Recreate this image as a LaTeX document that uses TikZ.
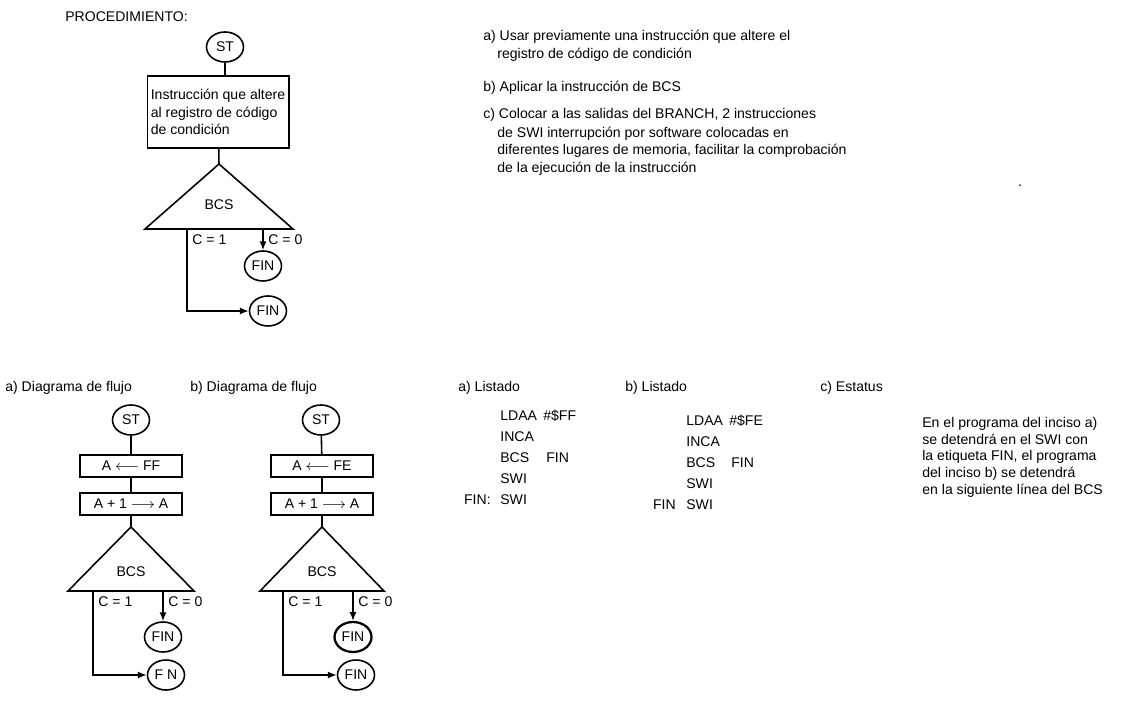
\documentclass[tikz,border=0pt]{standalone}
\usepackage{fontspec}
\setmainfont{Liberation Sans}
\usepackage{tikz}
\usetikzlibrary{shapes.geometric,arrows.meta,positioning}
\tikzstyle{term}=[ellipse, draw, line width=0.9pt, minimum width=0.74cm,
  minimum height=0.6cm, inner sep=0pt]
\tikzstyle{proc}=[rectangle, draw, line width=0.9pt, inner sep=2pt]
\tikzstyle{op}=[proc, minimum width=2.04cm, minimum height=0.45cm, inner sep=1pt]
\tikzstyle{txt}=[anchor=west, inner sep=0pt]
\tikzstyle{flow}=[line width=0.9pt]
\tikzstyle{arrow}=[-{Latex[length=5pt,width=4pt]}, line width=0.9pt]

\begin{document}
\begin{tikzpicture}[x=0.02cm, y=-0.02cm, every node/.style={font=\fontsize{8}{10}\selectfont}]
    \useasboundingbox (0,0) rectangle (1123,702);

    % Procedure flowchart, top left
    \node[txt] (proc) at (65,17) {PROCEDIMIENTO:};
    \node[term] (st) at (225,47) {ST};
    \node[proc, minimum width=2.8cm, minimum height=1.44cm, align=left] (cc) at (218,112)
      {Instrucción que altere\\ al registro de código\\ de condición};
    \coordinate (tA) at (219,164);
    \coordinate (tL) at (145,229);
    \coordinate (tR) at (293,229);
    \draw[flow] (tA) -- (tL) -- (tR) -- cycle;
    \node (bcs) at (219,205) {BCS};
    \coordinate (yes) at (187,229);
    \coordinate (no) at (263,229);
    \node[txt] (c1) at (192,240) {C = 1};
    \node[txt] (c0) at (268,240) {C = 0};
    \node[term] (fin1) at (263,266) {FIN};
    \node[term] (fin2) at (268,311) {FIN};

    \draw[flow] (st) -- (cc.north -| st);
    \draw[flow] (cc) -- (tA);
    \draw[arrow] (no) -- (fin1);
    \draw[arrow] (yes) |- (fin2);

    % Steps a) b) c)
    \node[txt] (pa) at (483,37) {a) Usar previamente una instrucción que altere el};
    \node[txt] (pa2) at (497,55) {registro de código de condición};
    \node[txt] (pb) at (483,88) {b) Aplicar la instrucción de BCS};
    \node[txt] (pc) at (483,115) {c) Colocar a las salidas del BRANCH, 2 instrucciones};
    \node[txt, align=left] (pc2) at (497,151)
      {de SWI interrupción por software colocadas en\\
       diferentes lugares de memoria, facilitar la comprobación\\
       de la ejecución de la instrucción};
    \node (dot) at (1020,186) {.};

    % Titles of the lower row
    \node[txt] (ha) at (5,388) {a) Diagrama de flujo};
    \node[txt] (hb) at (190,388) {b) Diagrama de flujo};
    \node[txt] (la) at (458,388) {a) Listado};
    \node[txt] (lb) at (625,388) {b) Listado};
    \node[txt] (hc) at (820,388) {c) Estatus};

    % Flowchart a)
    \node[term] (sta) at (131,420) {ST};
    \node[op] (ldaa) at (131,466) {A $\longleftarrow$ FF};
    \node[op] (inca) at (131,504) {A + 1 $\longrightarrow$ A};
    \coordinate (aA) at (131,527);
    \coordinate (aL) at (68,591);
    \coordinate (aR) at (194,591);
    \draw[flow] (aA) -- (aL) -- (aR) -- cycle;
    \node (bcsa) at (131,572) {BCS};
    \coordinate (yesa) at (93,591);
    \coordinate (noa) at (163,591);
    \node[txt] (c1a) at (98,602) {C = 1};
    \node[txt] (c0a) at (168,602) {C = 0};
    \node[term] (fina) at (163,637) {FIN};
    \node[term] (finb) at (166,675) {F N};
    \draw[flow] (sta) -- (ldaa);
    \draw[flow] (ldaa) -- (inca);
    \draw[flow] (inca) -- (aA);
    \draw[arrow] (noa) -- (fina);
    \draw[arrow] (yesa) |- (finb);

    % Flowchart b)
    \node[term] (stb) at (321,420) {ST};
    \node[op] (ldab) at (322,466) {A $\longleftarrow$ FE};
    \node[op] (incb) at (322,504) {A + 1 $\longrightarrow$ A};
    \coordinate (bA) at (322,527);
    \coordinate (bL) at (260,591);
    \coordinate (bR) at (384,591);
    \draw[flow] (bA) -- (bL) -- (bR) -- cycle;
    \node (bcsb) at (322,572) {BCS};
    \coordinate (yesb) at (283,591);
    \coordinate (nob) at (353,591);
    \node[txt] (c1b) at (288,602) {C = 1};
    \node[txt] (c0b) at (358,602) {C = 0};
    \node[term, line width=1.3pt] (finc) at (353,637) {FIN};
    \node[term] (find) at (356,675) {FIN};
    \draw[flow] (stb) -- (ldab);
    \draw[flow] (ldab) -- (incb);
    \draw[flow] (incb) -- (bA);
    \draw[arrow] (nob) -- (finc);
    \draw[arrow] (yesb) |- (find);

    % Listing a)
    \node[txt] (a1) at (500,416) {LDAA};
    \node[txt] (a1o) at (543,416) {\#\$FF};
    \node[txt] (a2) at (500,437) {INCA};
    \node[txt] (a3) at (500,458) {BCS};
    \node[txt] (a3o) at (546,458) {FIN};
    \node[txt] (a4) at (500,479) {SWI};
    \node[anchor=east, inner sep=0pt] (a5l) at (491,500) {FIN:};
    \node[txt] (a5) at (500,500) {SWI};

    % Listing b)
    \node[txt] (b1) at (686,421) {LDAA};
    \node[txt] (b1o) at (729,421) {\#\$FE};
    \node[txt] (b2) at (686,442) {INCA};
    \node[txt] (b3) at (686,463) {BCS};
    \node[txt] (b3o) at (731,463) {FIN};
    \node[txt] (b4) at (686,484) {SWI};
    \node[anchor=east, inner sep=0pt] (b5l) at (676,505) {FIN};
    \node[txt] (b5) at (686,505) {SWI};

    % Status c)
    \node[anchor=north west, align=left, inner sep=0pt,
      font=\fontsize{8}{9.5}\selectfont] (stat) at (922,417)
      {En el programa del inciso a)\\ se detendrá en el SWI con\\
       la etiqueta FIN, el programa\\ del inciso b) se detendrá\\
       en la siguiente línea del BCS};

\end{tikzpicture}
\end{document}
